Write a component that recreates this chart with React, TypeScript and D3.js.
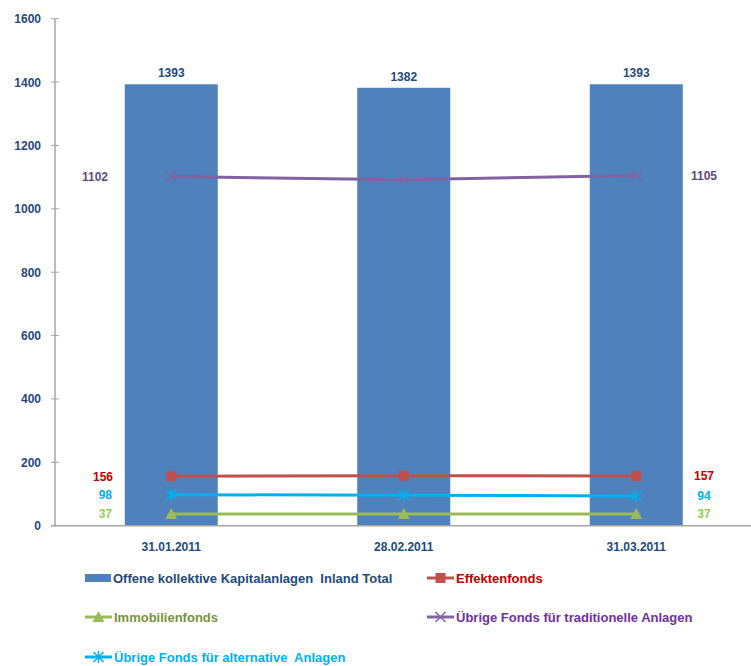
import React from "react";
import * as d3 from "d3";

const categories = ["31.01.2011", "28.02.2011", "31.03.2011"];
const totalValues = [1393, 1382, 1393];
const effektenValues = [156, 158, 157];
const traditionalValues = [1102, 1092, 1105];
const alternativeValues = [98, 96, 94];
const immobilienValues = [37, 37, 37];
const yTicks = [0, 200, 400, 600, 800, 1000, 1200, 1400, 1600];

const W = 751, H = 666;
const left = 55, right = 752.5, top = 18.7, bottom = 525.7;

type Series = { name: string; values: number[]; line: string; label: string; legendText: string; marker: string; labelEnd: number };
const lineSeries: Series[] = [
  { name: "Effektenfonds", values: effektenValues, line: "#C0504D", label: "#C00000", legendText: "#C00000", marker: "square", labelEnd: 113 },
  { name: "Übrige Fonds für traditionelle Anlagen", values: traditionalValues, line: "#8064A2", label: "#604A7B", legendText: "#7030A0", marker: "x", labelEnd: 108 },
  { name: "Übrige Fonds für alternative  Anlagen", values: alternativeValues, line: "#00B0F0", label: "#00B0F0", legendText: "#00B0F0", marker: "star", labelEnd: 112 },
  { name: "Immobilienfonds", values: immobilienValues, line: "#9BBB59", label: "#92D050", legendText: "#77933C", marker: "triangle", labelEnd: 112 },
];

function Marker({ type, x, y, color }: { type: string; x: number; y: number; color: string }) {
  if (type === "square") return <rect x={x - 5} y={y - 5} width={10} height={10} fill={color} />;
  if (type === "triangle") return <path d={`M${x},${y - 6}L${x + 6},${y + 5}L${x - 6},${y + 5}Z`} fill={color} />;
  if (type === "x") return <path d={`M${x - 5},${y - 5}L${x + 5},${y + 5}M${x - 5},${y + 5}L${x + 5},${y - 5}`} stroke={color} strokeWidth={1.5} />;
  return (
    <path
      d={`M${x - 5},${y - 5}L${x + 5},${y + 5}M${x - 5},${y + 5}L${x + 5},${y - 5}M${x},${y - 6}L${x},${y + 6}`}
      stroke={color}
      strokeWidth={1.5}
    />
  );
}

export default function App() {
  const x = d3.scaleBand<string>().domain(categories).range([left, right]).paddingInner(0.6).paddingOuter(0.3);
  const xc = (c: string) => (x(c) as number) + x.bandwidth() / 2;
  const y = d3.scaleLinear().domain([0, 1600]).range([bottom, top]);
  const font = "Liberation Sans, Arial, sans-serif";
  const line = d3.line<number>().x((_, i) => xc(categories[i])).y((v) => y(v));
  const bw = 93;

  const legend = [
    { kind: "bar", name: "Offene kollektive Kapitalanlagen  Inland Total", color: "#4F81BD", text: "#1F497D", x: 85, y: 578 },
    { kind: "line", s: lineSeries[0], x: 427, y: 578 },
    { kind: "line", s: lineSeries[3], x: 85, y: 617 },
    { kind: "line", s: lineSeries[1], x: 427, y: 617 },
    { kind: "line", s: lineSeries[2], x: 85, y: 657 },
  ];

  return (
    <svg width={W} height={H} style={{ position: "absolute", left: 0, top: 0, background: "#fff" }} fontFamily={font}>
      {categories.map((c, i) => (
        <g key={c}>
          <rect x={xc(c) - bw / 2} y={y(totalValues[i])} width={bw} height={bottom - y(totalValues[i])} fill="#4F81BD" />
          <text x={xc(c)} y={y(totalValues[i]) - 7} textAnchor="middle" fontSize={12} fontWeight="bold" fill="#1F497D">
            {totalValues[i]}
          </text>
        </g>
      ))}
      <line x1={left} x2={left} y1={top} y2={bottom} stroke="#A6A6A6" strokeWidth={1.5} />
      <line x1={left - 4} x2={W} y1={bottom} y2={bottom} stroke="#A6A6A6" strokeWidth={1.5} />
      {yTicks.map((t) => (
        <g key={t}>
          <line x1={left - 4} x2={left + 4} y1={y(t)} y2={y(t)} stroke="#A6A6A6" strokeWidth={1} />
          <text x={41} y={y(t) + 4.5} textAnchor="end" fontSize={12} fontWeight="bold" fill="#1F497D">
            {t}
          </text>
        </g>
      ))}
      {categories.map((c) => (
        <text key={c} x={xc(c)} y={551} textAnchor="middle" fontSize={12} fontWeight="bold" fill="#1F497D">
          {c}
        </text>
      ))}
      {lineSeries.map((s) => (
        <g key={s.name}>
          <path d={line(s.values) as string} fill="none" stroke={s.line} strokeWidth={3} />
          {s.values.map((v, i) => (
            <Marker key={i} type={s.marker} x={xc(categories[i])} y={y(v)} color={s.line} />
          ))}
          <text x={s.labelEnd} y={y(s.values[0]) + 4.5} textAnchor="end" fontSize={12} fontWeight="bold" fill={s.label}>
            {s.values[0]}
          </text>
          <text x={704} y={y(s.values[2]) + 4.5} textAnchor="middle" fontSize={12} fontWeight="bold" fill={s.label}>
            {s.values[2]}
          </text>
        </g>
      ))}
      {legend.map((l, i) =>
        l.kind === "bar" ? (
          <g key={i}>
            <rect x={l.x} y={l.y - 4} width={26} height={8} fill={l.color} />
            <text x={l.x + 28} y={l.y + 4.5} fontSize={13} fontWeight="bold" fill={l.text} style={{ whiteSpace: "pre" }}>
              {l.name}
            </text>
          </g>
        ) : (
          <g key={i}>
            <line x1={l.x} x2={l.x + 27} y1={l.y} y2={l.y} stroke={l.s!.line} strokeWidth={3} />
            <Marker type={l.s!.marker} x={l.x + 13.5} y={l.y} color={l.s!.line} />
            <text x={l.x + 29} y={l.y + 4.5} fontSize={13} fontWeight="bold" fill={l.s!.legendText} style={{ whiteSpace: "pre" }}>
              {l.s!.name}
            </text>
          </g>
        )
      )}
    </svg>
  );
}
